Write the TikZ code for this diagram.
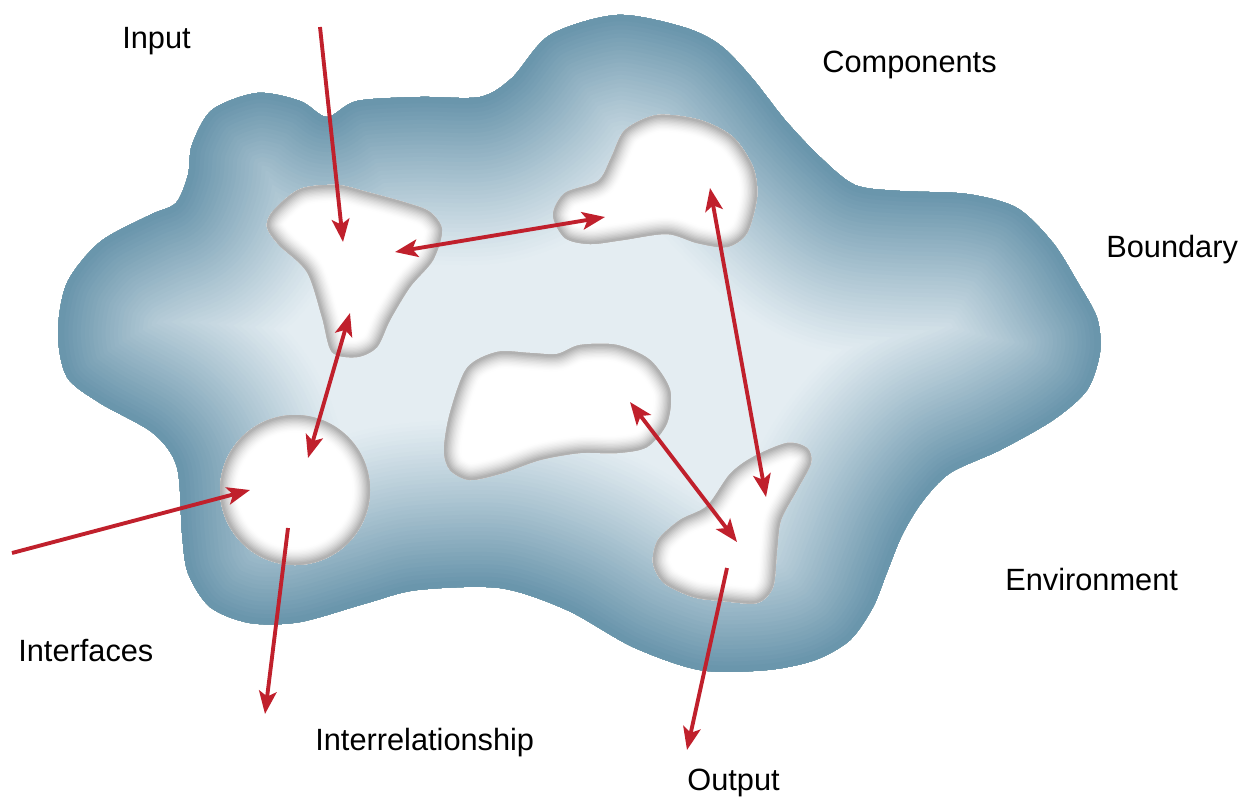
\documentclass[tikz,border=0pt]{standalone}
\usepackage{fontspec}
\setmainfont{Liberation Sans}
\usetikzlibrary{arrows.meta}
\definecolor{edgeblue}{HTML}{6592A9}
\definecolor{lightblue}{HTML}{E4EDF2}
\definecolor{arrowred}{HTML}{C0202C}
\definecolor{rimgray}{HTML}{858585}
\tikzset{rtip/.tip={Stealth[length=13pt,width=10pt,inset=3pt]}}
\def\bigblob{plot[smooth cycle] coordinates {(58,333) (67,283) (100,242) (150,215) (176,203) (188,175) (192,145) (212,110) (257,93) (300,101) (327,117) (357,101) (420,97) (480,97) (512,78) (550,35) (617,15) (683,27) (720,45) (752,78) (785,120) (820,157) (855,185) (900,191) (967,194) (1017,208) (1053,243) (1078,283) (1097,318) (1100,352) (1087,390) (1053,420) (1000,450) (950,473) (922,502) (902,535) (887,572) (873,607) (850,640) (815,660) (767,670) (700,670) (633,647) (567,610) (500,588) (417,590) (367,603) (300,622) (250,623) (210,607) (188,573) (182,533) (177,467) (153,433) (100,403) (67,377)}}
\def\compA{plot[smooth cycle] coordinates {(267,227) (273,211) (300,189) (337,185) (367,192) (407,203) (430,212) (442,230) (433,260) (410,287) (390,320) (377,347) (357,357) (332,352) (322,317) (307,272) (279,245)}}
\def\compB{plot[smooth cycle] coordinates {(553,215) (565,193) (598,181) (611,158) (625,130) (657,115) (700,120) (733,137) (753,167) (757,197) (747,233) (727,247) (697,243) (667,234) (623,240) (590,244) (565,238)}}
\def\compC{plot[smooth cycle] coordinates {(444,450) (450,413) (467,368) (497,352) (530,353) (557,354) (580,345) (617,345) (650,360) (670,390) (667,423) (647,447) (617,453) (580,453) (540,460) (503,473) (470,480) (450,470)}}
\def\compD{(295,490) circle [radius=75]}
\def\compE{plot[smooth cycle] coordinates {(807,448) (787,443) (753,457) (730,474) (707,506) (680,520) (658,540) (653,563) (664,583) (693,597) (723,601) (757,603) (773,587) (777,550) (781,520) (797,490) (811,463)}}
\begin{document}
\begin{tikzpicture}[x=0.02cm,y=-0.02cm,
  lbl/.style={font=\fontsize{17.5}{21}\selectfont, text=black, inner sep=0pt, anchor=base west},
  link/.style={draw=arrowred, line width=2.2pt, -rtip},
  dlink/.style={draw=arrowred, line width=2.2pt, rtip-rtip}]
\useasboundingbox (0,0) rectangle (1255,796);
\fill[white] (0,0) rectangle (1255,796);
% system boundary with inner shading
\begin{scope}
  \clip \bigblob;
  \fill[lightblue] \bigblob;
  \foreach \i in {0,...,39}{
    \pgfmathsetmacro\d{165*(1-\i/40)+2}
    \pgfmathsetmacro\p{100*pow(1-\d/170,1.1)}
    \pgfmathsetmacro\w{1.138*\d}
    \draw[line width=\w pt, color=edgeblue!\p!lightblue, line join=round] \bigblob;
  }
\end{scope}
% components
\foreach \s in {\compA,\compB,\compC,\compD,\compE}{
  \begin{scope}
    \clip \s;
    \fill[white] \s;
    \foreach \i in {0,...,11}{
      \pgfmathsetmacro\d{16*(1-\i/12)+1}
      \pgfmathsetmacro\p{80*pow(1-\d/18,1.6)}
      \pgfmathsetmacro\w{1.138*\d}
      \draw[line width=\w pt, color=rimgray!\p!white, line join=round] \s;
    }
  \end{scope}
}
% arrow end points
\coordinate (inTop) at (320,27);
\coordinate (c1in) at (343,242);
\coordinate (c1r) at (395,252);
\coordinate (c2l) at (605,217);
\coordinate (c2b) at (710,188);
\coordinate (c5t) at (766,497);
\coordinate (c1b) at (350,313);
\coordinate (c4t) at (308,458);
\coordinate (inLeft) at (12,553);
\coordinate (c4l) at (250,490);
\coordinate (c4b) at (288,528);
\coordinate (outA) at (265,714);
\coordinate (c3r) at (630,402);
\coordinate (c5m) at (737,542);
\coordinate (c5b) at (727,568);
\coordinate (outB) at (687,750);
% connectors
\draw[link] (inTop) -- (c1in);
\draw[dlink] (c1r) -- (c2l);
\draw[dlink] (c2b) -- (c5t);
\draw[dlink] (c1b) -- (c4t);
\draw[link] (inLeft) -- (c4l);
\draw[link] (c4b) -- (outA);
\draw[dlink] (c3r) -- (c5m);
\draw[link] (c5b) -- (outB);
% labels
\node[lbl] (input) at (122,48) {Input};
\node[lbl] (components) at (822,72) {Components};
\node[lbl] (boundary) at (1106,257) {Boundary};
\node[lbl] (environment) at (1005,590) {Environment};
\node[lbl] (interfaces) at (18,661) {Interfaces};
\node[lbl] (interrel) at (315,750) {Interrelationship};
\node[lbl] (output) at (687,790) {Output};
\end{tikzpicture}
\end{document}
